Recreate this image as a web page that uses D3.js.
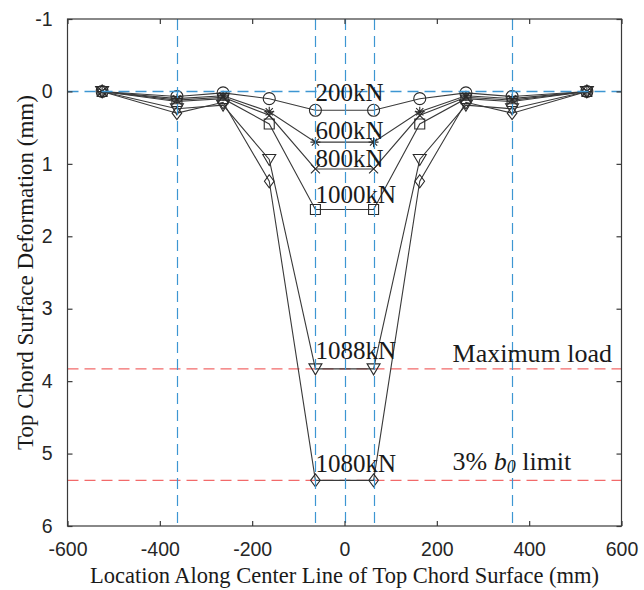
<!DOCTYPE html>
<html>
<head>
<meta charset="utf-8">
<script src="https://cdn.jsdelivr.net/npm/d3@7"></script>
<style>
  body { margin: 0; background: #fff; }
</style>
</head>
<body>
<script>
// measuring points along the centre line (mm)
const positions = [-525, -363, -263, -163, -63, 63, 163, 263, 363, 525]

// deformation of each load step (mm)
const loads = ["200kN", "600kN", "800kN", "1000kN", "1088kN", "1080kN"]
const def200  = [0, 0.07, 0.02, 0.10, 0.26, 0.26, 0.10, 0.02, 0.07, 0]
const def600  = [0, 0.10, 0.06, 0.28, 0.70, 0.70, 0.28, 0.06, 0.10, 0]
const def800  = [0, 0.12, 0.08, 0.33, 1.07, 1.07, 0.33, 0.08, 0.12, 0]
const def1000 = [0, 0.14, 0.10, 0.45, 1.63, 1.63, 0.45, 0.10, 0.14, 0]
const def1088 = [0, 0.24, 0.19, 0.94, 3.83, 3.83, 0.94, 0.19, 0.24, 0]
const def1080 = [0, 0.30, 0.15, 1.24, 5.37, 5.37, 1.24, 0.15, 0.30, 0]
const markers = ["circle", "star", "cross", "square", "tridown", "diamond"]
const labelDepth = [0.13, 0.66, 1.05, 1.54, 3.70, 5.25]

// reference lines
const guideX = [-363, -63, 0, 63, 363]
const guideY = [0]
const limitY = [3.83, 5.37]
const limitLabelY = [3.73, 5.22]
const limitLabelX = 234

const xTicks = [-600, -400, -200, 0, 200, 400, 600]
const yTicks = [-1, 0, 1, 2, 3, 4, 5, 6]

const series = [def200, def600, def800, def1000, def1088, def1080]

const svg = d3.select("body")
              .append("svg")
              .attr("width", 644)
              .attr("height", 590)

const x = d3.scaleLinear().domain([-600, 600]).range([67.5, 621.5])
const y = d3.scaleLinear().domain([-1, 6]).range([19, 526])

const serif = "'Liberation Serif', 'Times New Roman', serif"
const sans = "'Liberation Sans', Arial, sans-serif"

svg.append("clipPath").attr("id", "clip")
   .append("rect")
   .attr("x", x(-600)).attr("y", y(-1))
   .attr("width", x(600) - x(-600)).attr("height", y(6) - y(-1))

const plot = svg.append("g").attr("clip-path", "url(#clip)")

// red limits
plot.selectAll(".lim")
    .data(limitY)
    .enter()
    .append("line")
    .attr("x1", x(-600)).attr("x2", x(600))
    .attr("y1", d => y(d)).attr("y2", d => y(d))
    .attr("stroke", "#f26a6a")
    .attr("stroke-width", 1.4)
    .attr("stroke-dasharray", "11,6")

const line = d3.line()
               .x((d, i) => x(positions[i]))
               .y(d => y(d))

function marker(type) {
    if (type == "circle") return "M-6,0A6,6 0 1,0 6,0A6,6 0 1,0 -6,0Z"
    if (type == "square") return "M-5,-5H5V5H-5Z"
    if (type == "tridown") return "M-6.5,-5H6.5L0,6Z"
    if (type == "diamond") return "M0,-6.5L4.8,0L0,6.5L-4.8,0Z"
    if (type == "cross") return "M-4.5,-4.5L4.5,4.5M-4.5,4.5L4.5,-4.5"
    return "M-5,0H5M0,-5V5M-3.6,-3.6L3.6,3.6M-3.6,3.6L3.6,-3.6"
}

series.forEach((s, k) => {
    plot.append("path")
        .attr("d", line(s))
        .attr("fill", "none")
        .attr("stroke", "#3a3a3a")
        .attr("stroke-width", 1.1)

    plot.selectAll(".m" + k)
        .data(s)
        .enter()
        .append("path")
        .attr("transform", (d, i) => "translate(" + x(positions[i]) + "," + y(d) + ")")
        .attr("d", marker(markers[k]))
        .attr("fill", "none")
        .attr("stroke", "#2a2a2a")
        .attr("stroke-width", 1.1)
})

// blue dashed guides, drawn over the curves
plot.selectAll(".gx")
    .data(guideX)
    .enter()
    .append("line")
    .attr("x1", d => Math.round(x(d)) + 0.5).attr("x2", d => Math.round(x(d)) + 0.5)
    .attr("y1", y(-1)).attr("y2", y(6))
    .attr("stroke", "#3d96d2")
    .attr("stroke-width", 1.2)
    .attr("stroke-dasharray", "11,6")

plot.selectAll(".gy")
    .data(guideY)
    .enter()
    .append("line")
    .attr("x1", x(-600)).attr("x2", x(600))
    .attr("y1", d => y(d)).attr("y2", d => y(d))
    .attr("stroke", "#3d96d2")
    .attr("stroke-width", 1.4)
    .attr("stroke-dasharray", "11,6")

// load labels
svg.selectAll(".lab")
   .data(loads)
   .enter()
   .append("text")
   .attr("x", x(positions[4]))
   .attr("y", (d, i) => y(labelDepth[i]))
   .text(d => d)
   .attr("font-family", serif)
   .attr("font-size", "25px")
   .attr("fill", "#1a1a1a")

svg.append("text")
   .attr("x", x(limitLabelX))
   .attr("y", y(limitLabelY[0]))
   .text("Maximum load")
   .attr("font-family", serif)
   .attr("font-size", "26px")
   .attr("fill", "#1a1a1a")

const lim = svg.append("text")
   .attr("x", x(limitLabelX))
   .attr("y", y(limitLabelY[1]))
   .attr("font-family", serif)
   .attr("font-size", "26px")
   .attr("fill", "#1a1a1a")
lim.append("tspan").text("3% ")
lim.append("tspan").text("b").attr("font-style", "italic")
lim.append("tspan").text("0").attr("font-style", "italic").attr("font-size", "18px").attr("dy", 3)
lim.append("tspan").text(" limit").attr("dy", -3)

// axes
const fmt = d => String(d)
const axB = svg.append("g").attr("transform", "translate(0," + y(6) + ")")
               .call(d3.axisBottom(x).tickValues(xTicks).tickSize(-5).tickPadding(16).tickFormat(fmt))
const axT = svg.append("g").attr("transform", "translate(0," + y(-1) + ")")
               .call(d3.axisTop(x).tickValues(xTicks).tickSize(-5).tickFormat(""))
const axL = svg.append("g").attr("transform", "translate(" + x(-600) + ",0)")
               .call(d3.axisLeft(y).tickValues(yTicks).tickSize(-5).tickPadding(15).tickFormat(fmt))
const axR = svg.append("g").attr("transform", "translate(" + x(600) + ",0)")
               .call(d3.axisRight(y).tickValues(yTicks).tickSize(-5).tickFormat(""))

;[axB, axT, axL, axR].forEach(a => {
    a.selectAll("path,line").attr("stroke", "#3a3a3a").attr("stroke-width", 1.2)
    a.selectAll("text").attr("font-family", sans).attr("font-size", "19.5px").attr("fill", "#262626")
    a.select(".domain").attr("d", null)
})

svg.append("rect")
   .attr("x", x(-600)).attr("y", y(-1))
   .attr("width", x(600) - x(-600)).attr("height", y(6) - y(-1))
   .attr("fill", "none")
   .attr("stroke", "#3a3a3a")
   .attr("stroke-width", 1.2)

svg.append("text")
   .attr("x", (x(-600) + x(600)) / 2)
   .attr("y", 583)
   .attr("text-anchor", "middle")
   .text("Location Along Center Line of Top Chord Surface (mm)")
   .attr("font-family", serif)
   .attr("font-size", "22.5px")
   .attr("fill", "#1a1a1a")

svg.append("text")
   .attr("transform", "translate(33," + (y(-1) + y(6)) / 2 + ") rotate(-90)")
   .attr("text-anchor", "middle")
   .text("Top Chord Surface Deformation (mm)")
   .attr("font-family", serif)
   .attr("font-size", "23px")
   .attr("fill", "#1a1a1a")
</script>
</body>
</html>
